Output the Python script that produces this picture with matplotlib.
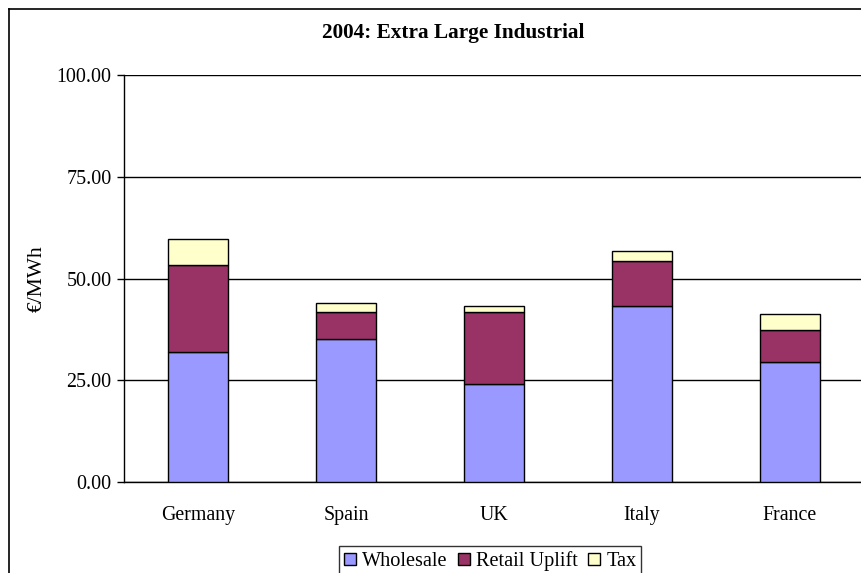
import numpy as np
import matplotlib.pyplot as plt
from matplotlib.lines import Line2D

countries = ["Germany", "Spain", "UK", "Italy", "France"]
wholesale = [31.9, 35.1, 24.1, 43.2, 29.5]
retail_uplift = [21.4, 6.7, 17.7, 11.1, 7.8]
tax = [6.4, 2.2, 1.4, 2.5, 4.0]
y_ticks = [0, 25, 50, 75, 100]

plt.rcParams['font.family'] = ['Liberation Serif', 'DejaVu Serif']

fig = plt.figure(figsize=(8.61, 5.73), dpi=100)
W, H = 861, 573
ax = fig.add_axes([124 / W, 1 - 482 / H, 740 / W, 407 / H])

x = np.arange(len(countries))
width = 0.405
wholesale = np.array(wholesale)
retail_uplift = np.array(retail_uplift)
tax = np.array(tax)

ax.bar(x, wholesale, width, color="#9999FF", edgecolor="black", linewidth=1, label="Wholesale", zorder=3)
ax.bar(x, retail_uplift, width, bottom=wholesale, color="#993366", edgecolor="black", linewidth=1, label="Retail Uplift", zorder=3)
ax.bar(x, tax, width, bottom=wholesale + retail_uplift, color="#FFFFCC", edgecolor="black", linewidth=1, label="Tax", zorder=3)

ax.set_xlim(-0.5, len(countries) - 0.5)
ax.set_ylim(0, 100)
ax.set_yticks(y_ticks)
ax.set_yticklabels([f"{v:.2f}" for v in y_ticks], fontsize=14.4)
ax.set_xticks(x)
ax.set_xticklabels(countries, fontsize=14.3)
ax.tick_params(axis="x", length=0, pad=17)
ax.tick_params(axis="y", length=5, width=1, pad=4)
ax.yaxis.grid(True, color="black", linewidth=1, zorder=0)
for s in ["top", "right"]:
    ax.spines[s].set_visible(False)
ax.spines["left"].set_linewidth(1)
ax.spines["bottom"].set_linewidth(1)

ax.set_ylabel("€/MWh", fontsize=15.5, labelpad=7)
fig.text(453 / W, 1 - 33 / H, "2004: Extra Large Industrial", ha="center", va="center",
         fontsize=15.3, fontweight="bold")

# outer chart border (cropped on the right and bottom)
fig.add_artist(Line2D([9 / W, 9 / W], [1 - 9 / H, 0], color="black", linewidth=1.2, transform=fig.transFigure))
fig.add_artist(Line2D([9 / W, 1], [1 - 9 / H, 1 - 9 / H], color="black", linewidth=1.2, transform=fig.transFigure))

leg = fig.legend(loc="upper center", bbox_to_anchor=(490 / W, 1 - 536 / H), ncol=3, fontsize=14.6,
                 frameon=True, fancybox=False, edgecolor="black", handlelength=0.6, handleheight=0.6,
                 handletextpad=0.3, columnspacing=0.5, borderpad=0.25)
leg.get_frame().set_linewidth(1)

fig.savefig("out.png", dpi=100)
